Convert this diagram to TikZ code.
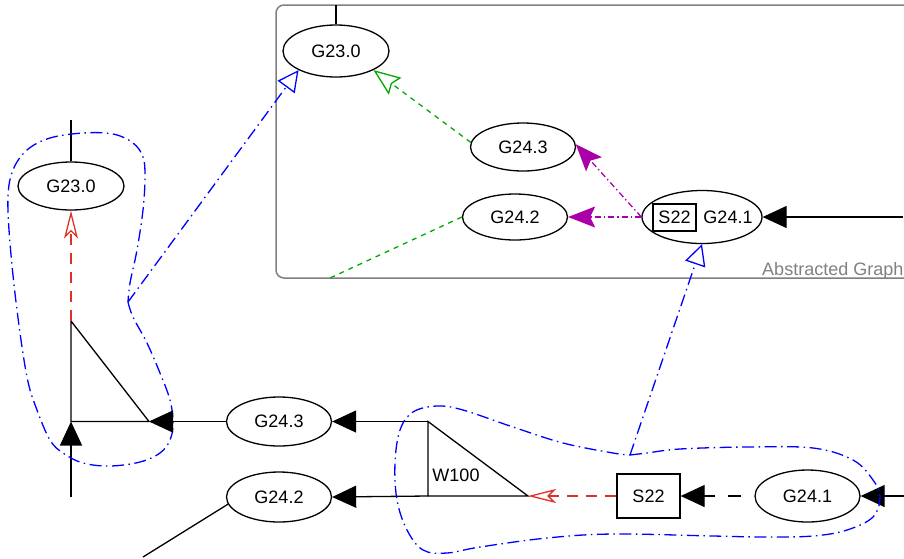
\documentclass[tikz,border=0pt]{standalone}
\usepackage{fontspec}
\setmainfont{Liberation Sans}
\usetikzlibrary{arrows.meta,shapes.geometric}
\definecolor{hullblue}{RGB}{0,0,255}
\definecolor{flowred}{RGB}{220,50,40}
\definecolor{absgreen}{RGB}{0,170,0}
\definecolor{absmagenta}{RGB}{170,0,170}
\definecolor{framegray}{RGB}{128,128,128}

\begin{document}
\begin{tikzpicture}[x=1pt,y=-1pt,
  lbl/.style={font=\fontsize{18pt}{20pt}\selectfont},
  gnode/.style={ellipse,draw,line width=1.3pt,inner sep=0pt,
    minimum width=105pt,minimum height=48pt,lbl},
  sbox/.style={rectangle,draw,line width=1.3pt,inner sep=0pt,lbl},
  wire/.style={line width=1.3pt,line join=miter},
  solidarr/.style={wire,-{Triangle[length=24pt,width=22pt]}},
  dashedarr/.style={solidarr,dash pattern=on 13pt off 13pt,dash phase=13pt},
  hull/.style={hullblue,line width=1.3pt,
    dash pattern=on 12pt off 4.5pt on 1.5pt off 4.5pt},
  hullarr/.style={hull,-{Triangle[open,length=21pt,width=21pt]}},
  redarr/.style={flowred,line width=1.3pt,dash pattern=on 11pt off 8pt,
    -{Stealth[open,length=28pt,width=14pt,inset=7pt]}},
  greenarr/.style={absgreen,line width=1.3pt,dash pattern=on 5pt off 5pt,
    -{Stealth[open,length=27pt,width=21pt,inset=4pt]}},
  greenline/.style={absgreen,line width=1.3pt,dash pattern=on 5pt off 5pt},
  magarr/.style={absmagenta,line width=1.3pt,
    dash pattern=on 6pt off 3pt on 1.5pt off 3pt,
    -{Stealth[length=27pt,width=21pt,inset=5pt]}}
]
\useasboundingbox (0,0) rectangle (904,558);
\clip (0,0) rectangle (904,558);

% ---------- abstracted graph frame ----------
\draw[framegray,line width=1.5pt,rounded corners=8pt] (276,5) rectangle (930,278);
\node[framegray,lbl,anchor=base east,inner sep=0pt] (agtitle) at (903.5,275) {Abstracted Graph};

\node[gnode,minimum width=106pt,minimum height=52pt] (aG230) at (336,51) {G23.0};
\node[gnode] (aG243) at (523,147) {G24.3};
\node[gnode,minimum height=46pt] (aG242) at (515,217) {G24.2};
\node[gnode,minimum width=120pt,minimum height=53pt] (aG241) at (702,217) {};
\node[sbox,minimum width=43pt,minimum height=27pt] (aS22) at (674.5,217.5) {S22};
\node[lbl,inner sep=0pt] (aG241t) at (728,217) {G24.1};

\coordinate (aTop) at (336,5);
\coordinate (aIn) at (903,217);
\coordinate (aOut) at (330,278);

\draw[wire] (aG230.north) -- (aTop);
\draw[solidarr] (aIn) -- (aG241.east);
\draw[magarr] (aG241.west) -- (aG242.east);
\draw[magarr] (aG241.west) -- (aG243.3);
\draw[greenarr] (aG243.175) -- (aG230.-27);
\draw[greenline] (aG242.west) -- (aOut);

% ---------- left cluster ----------
\node[gnode,minimum width=106pt] (lG230) at (71,186) {G23.0};
\coordinate (lTop) at (71,120);
\coordinate (t1) at (71,321);
\coordinate (t2) at (71,421.5);
\coordinate (t3) at (149,421.5);
\coordinate (lBottom) at (71,497);
\coordinate (lcusp) at (128,302);

\draw[wire] (lG230.north) -- (lTop);
\draw[wire] (t1) -- (t2) -- (t3) -- cycle;
\draw[solidarr] (lBottom) -- (t2);
\draw[redarr] (t1) -- (lG230.south);

\draw[hull] plot[smooth,tension=0.6] coordinates {(128,302) (133,317) (147,343)
  (160,373) (170,400) (173,423) (170,440) (160,453) (140,462) (110,466) (83,463)
  (63,453) (50,440) (37,410) (27,377) (17,310) (10,243) (8,197) (13,170) (27,150)
  (50,138) (83,133) (113,134) (133,143) (143,157) (145,177) (143,210) (137,250)
  (130,283) (128,302)};
\draw[hullarr] (lcusp) -- (aG230.-153);

% ---------- lower chain ----------
\node[gnode,minimum height=49pt] (bG243) at (279,421.5) {G24.3};
\node[gnode,minimum height=50pt] (bG242) at (279,497) {G24.2};
\coordinate (w1) at (428,421.5);
\coordinate (w2) at (428,496);
\coordinate (w3) at (528,496);
\node[lbl,inner sep=0pt] (w100) at (456,475) {W100};
\node[sbox,minimum width=63pt,minimum height=44pt] (bS22) at (648.5,496) {S22};
\node[gnode,minimum height=52pt] (bG241) at (807.5,496) {G24.1};
\coordinate (bIn) at (904,496);
\coordinate (bOut) at (143,557);
\coordinate (bcusp) at (630,455);

\draw[solidarr] (bG243.west) -- (t3);
\draw[wire] (w1) -- (w2) -- (w3) -- cycle;
\draw[solidarr] (w1) -- (bG243.east);
\draw[solidarr] (w2) -- (bG242.east);
\draw[wire] (bG242.188) -- (bOut);
\draw[solidarr] (bIn) -- (bG241.east);
\draw[dashedarr] (bG241.west) -- (bS22.east);
\draw[redarr] (bS22.west) -- (w3);

\draw[hull] plot[smooth,tension=0.6] coordinates {(630,455) (647,453) (680,449)
  (747,447) (813,448) (853,460) (873,480) (880,497) (873,517) (847,530) (813,536)
  (763,537) (713,536) (613,534) (547,538) (480,547) (447,553) (423,550) (407,530)
  (397,500) (395,463) (400,430) (413,412) (437,406) (463,410) (513,427) (563,443)
  (613,453) (630,455)};
\draw[hullarr] (bcusp) -- (aG241.south);
\end{tikzpicture}
\end{document}
